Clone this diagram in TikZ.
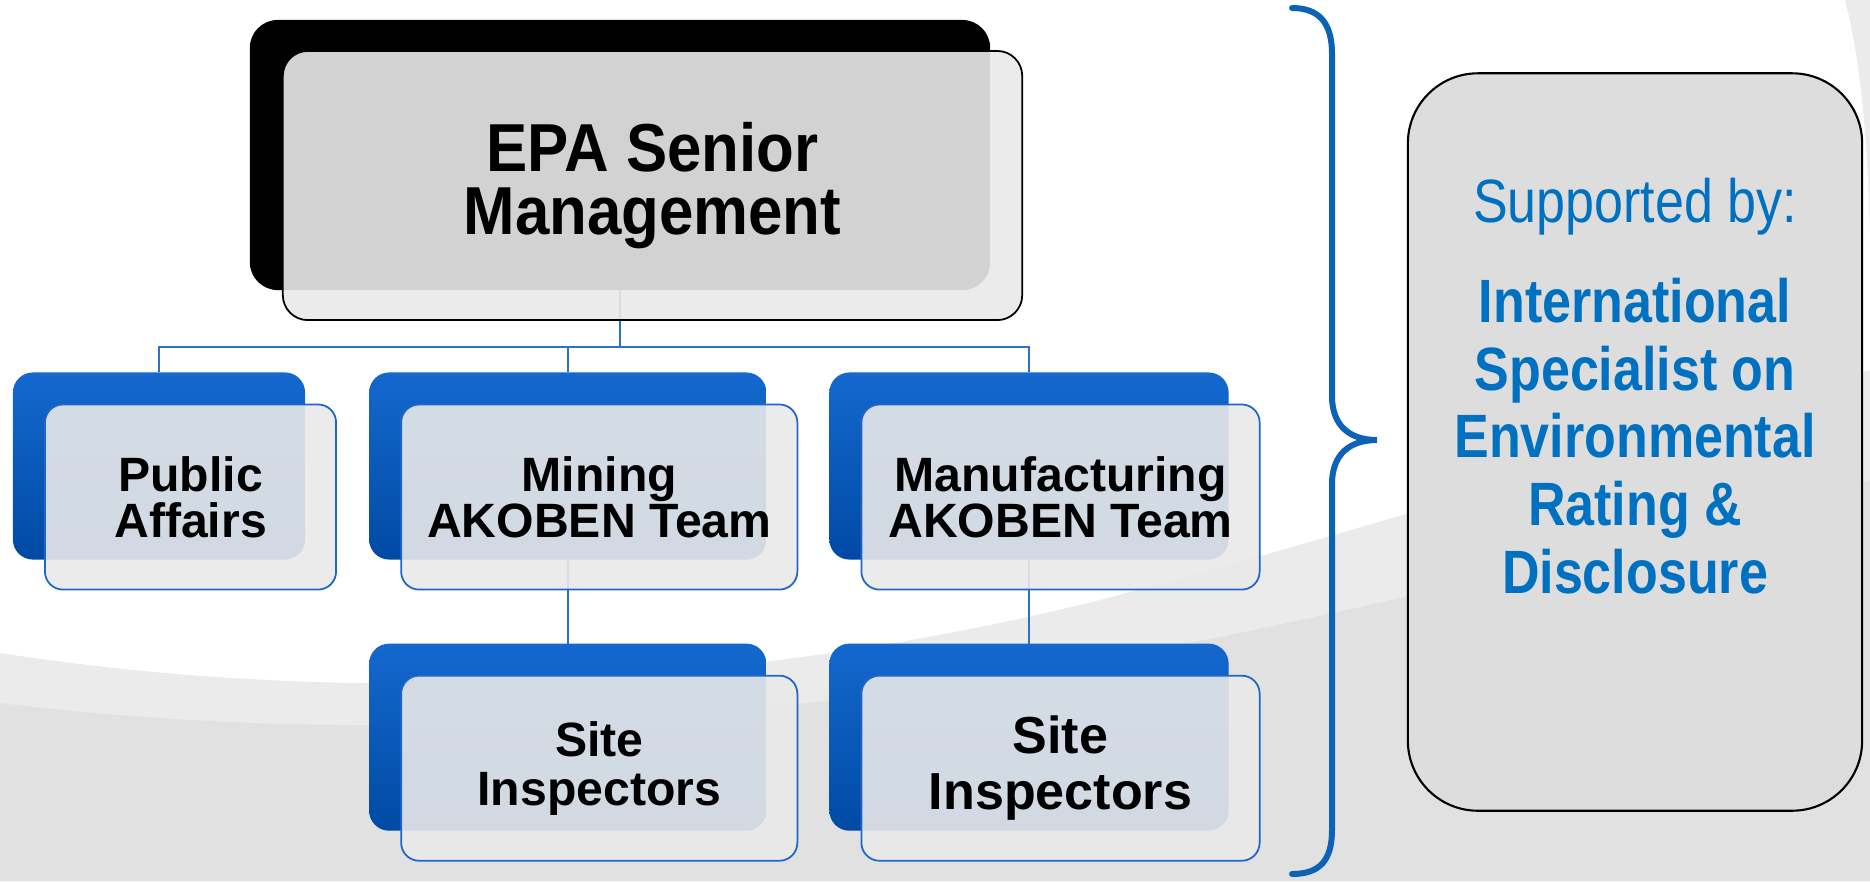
\documentclass[tikz,border=0pt]{standalone}
\usepackage{fontspec}
\setmainfont{Liberation Sans}
\newfontfamily\epafont{Liberation Sans}[FakeStretch=0.91]
\newfontfamily\narrowfont{Liberation Sans}[FakeStretch=0.85]
\usepackage{tikz}
\usetikzlibrary{calc, positioning}
\definecolor{boxblue}{RGB}{20,104,206}
\definecolor{boxbluedark}{RGB}{0,74,164}
\definecolor{edgeblue}{RGB}{32,102,200}
\definecolor{linkblue}{RGB}{44,112,200}
\definecolor{braceblue}{RGB}{12,98,180}
\definecolor{textblue}{RGB}{0,112,192}
\definecolor{panegray}{RGB}{233,233,233}
\definecolor{supportgray}{RGB}{221,221,221}
\definecolor{bandgray}{RGB}{235,235,235}
\definecolor{floorgray}{RGB}{225,225,225}
\tikzstyle{back} = [rectangle, rounded corners=0.2cm, top color=boxblue, bottom color=boxbluedark, minimum height=1.87cm, inner sep=0pt, outer sep=0pt]
\tikzstyle{front} = [rectangle, rounded corners=0.18cm, fill=panegray, fill opacity=0.9, text opacity=1, draw=edgeblue, line width=0.5pt, minimum height=1.85cm, inner sep=0pt, align=center, font=\bfseries\fontsize{13.7}{13.1}\selectfont]
\tikzstyle{topback} = [rectangle, rounded corners=0.28cm, fill=black, minimum width=7.4cm, minimum height=2.7cm, inner sep=0pt, outer sep=0pt]
\tikzstyle{topfront} = [front, draw=black, rounded corners=0.25cm, minimum width=7.39cm, minimum height=2.69cm, font=\epafont\bfseries\fontsize{19.3}{18.1}\selectfont]
\tikzstyle{supportbox} = [rectangle, rounded corners=0.7cm, fill=supportgray, draw=black, line width=0.6pt, minimum width=4.54cm, minimum height=7.37cm]
\tikzstyle{link} = [linkblue, line width=0.57pt]
\tikzstyle{brace} = [braceblue, line width=1.7pt, line cap=round]

\begin{document}
\begin{tikzpicture}[x=0.01cm, y=-0.01cm]
  \useasboundingbox (0,0) rectangle (1870,881);
  % backdrop
  \fill[white] (0,0) rectangle (1870,881);
  \fill[bandgray] (0,653) .. controls (300,700) and (700,700) .. (1100,600) .. controls (1400,520) and (1650,440) .. (1870,370) -- (1870,881) -- (0,881) -- cycle;
  \fill[floorgray] (0,703) .. controls (300,740) and (700,735) .. (1100,660) .. controls (1350,615) and (1650,540) .. (1870,480) -- (1870,881) -- (0,881) -- cycle;
  \fill[bandgray] (1845,0) .. controls (1866,80) and (1872,200) .. (1870,340) -- (1870,0) -- cycle;

  \node (top) [topback] at (620,155) {};
  \node (pub) [back, minimum width=2.92cm] at (159,466) {};
  \node (min) [back, minimum width=3.97cm, right=0.64cm of pub] {};
  \node (man) [back, minimum width=3.99cm, right=0.63cm of min] {};
  \node (minsite) [back, minimum width=3.97cm, below=0.84cm of min] {};
  \node (mansite) [back, minimum width=3.99cm, below=0.84cm of man] {};

  \draw [link] (top.south) -- ++(0,57) -| (pub.north);
  \draw [link] (top.south) -- ++(0,57) -| (min.north);
  \draw [link] (top.south) -- ++(0,57) -| (man.north);
  \draw [link] (min.south) -- (minsite.north);
  \draw [link] (man.south) -- (mansite.north);

  \node (topf) [topfront, xshift=0.325cm, yshift=-0.305cm] at (top) {EPA Senior\\Management};
  \node (pubf) [front, minimum width=2.91cm, xshift=0.315cm, yshift=-0.31cm] at (pub) {Public\\Affairs};
  \node (minf) [front, minimum width=3.96cm, xshift=0.315cm, yshift=-0.31cm] at (min) {Mining\\AKOBEN Team};
  \node (manf) [front, minimum width=3.98cm, xshift=0.315cm, yshift=-0.31cm] at (man) {Manufacturing\\AKOBEN Team};
  \node (minsitef) [front, minimum width=3.96cm, xshift=0.315cm, yshift=-0.31cm, font=\bfseries\fontsize{13.7}{13.9}\selectfont] at (minsite) {Site\\Inspectors};
  \node (mansitef) [front, minimum width=3.98cm, xshift=0.315cm, yshift=-0.31cm, font=\bfseries\fontsize{14.8}{15.9}\selectfont] at (mansite) {Site\\Inspectors};

  % brace
  \draw [brace] (1292,8) .. controls (1320,8) and (1332,24) .. (1332,54) -- (1332,396) .. controls (1332,426) and (1350,440) .. (1377,440) .. controls (1350,440) and (1332,454) .. (1332,484) -- (1332,830) .. controls (1332,860) and (1320,874) .. (1292,874);

  \node (support) [supportbox] at (1635,442) {};
  \node (supporttext) [below=1.05cm of support.north, inner sep=0pt, align=center, textblue, font=\narrowfont\bfseries\fontsize{17.4}{19.3}\selectfont] {{\mdseries Supported by:}\\[0.32cm]International\\Specialist on\\Environmental\\Rating \&\\Disclosure};
\end{tikzpicture}
\end{document}
